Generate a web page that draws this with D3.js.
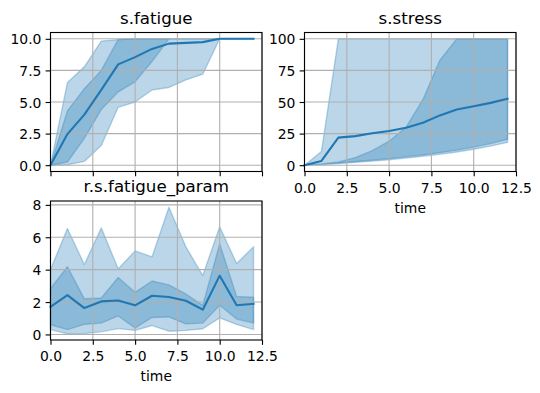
<!DOCTYPE html>
<html>
<head>
<meta charset="utf-8">
<script src="https://cdn.jsdelivr.net/npm/d3@7"></script>
<style>
  html, body { margin: 0; padding: 0; background: #fff; }
  text { font-family: "DejaVu Sans", sans-serif; fill: #000; }
</style>
</head>
<body>
<svg id="chart" width="540" height="393"></svg>
<script>
// ---------- data ----------
const time = [0, 1, 2, 3, 4, 5, 6, 7, 8, 9, 10, 11, 12];
const xTicks = [0, 2.5, 5, 7.5, 10, 12.5];

// s.fatigue
const fatigueMean  = [0, 2.46, 4.0, 5.96, 7.98, 8.55, 9.2, 9.62, 9.68, 9.74, 10, 10, 10];
const fatigueInLo  = [0, 0.25, 2.12, 4.4, 5.8, 6.6, 8.2, 10, 10, 10, 10, 10, 10];
const fatigueInHi  = [0, 4.3, 6.05, 7.5, 9.95, 10, 10, 10, 10, 10, 10, 10, 10];
const fatigueOutLo = [0, 0.03, 0.3, 1.55, 4.58, 5.0, 5.95, 6.15, 6.75, 7.2, 10, 10, 10];
const fatigueOutHi = [0, 6.55, 7.78, 9.82, 9.95, 10, 10, 10, 10, 10, 10, 10, 10];
const fatigueTicks = [0, 2.5, 5, 7.5, 10];

// s.stress
const stressMean  = [0, 3.4, 21.8, 23.0, 25.2, 27.0, 29.7, 33.6, 39.4, 44.0, 46.7, 49.3, 52.5];
const stressInLo  = [0, 0.8, 1.8, 2.9, 4.0, 5.2, 6.6, 8.1, 9.9, 11.9, 14.3, 17.1, 20.5];
const stressInHi  = [0, 1.0, 2.6, 6.0, 11.5, 19.0, 30.0, 52.0, 83.0, 100, 100, 100, 100];
const stressOutLo = [0, 0.4, 1.2, 2.2, 3.2, 4.3, 5.6, 7.0, 8.6, 10.4, 12.6, 15.1, 18.0];
const stressOutHi = [0, 10.8, 100, 100, 100, 100, 100, 100, 100, 100, 100, 100, 100];
const stressTicks = [0, 25, 50, 75, 100];

// r.s.fatigue_param
const paramMean  = [1.71, 2.43, 1.63, 2.04, 2.1, 1.8, 2.39, 2.31, 2.08, 1.53, 3.63, 1.8, 1.89];
const paramInLo  = [0.6, 0.3, 0.62, 0.7, 1.14, 0.4, 1.05, 1.08, 0.65, 0.7, 1.8, 0.95, 0.7];
const paramInHi  = [2.84, 4.18, 2.2, 2.25, 3.52, 2.6, 3.3, 3.06, 2.5, 1.8, 5.6, 2.35, 2.3];
const paramOutLo = [0.3, 0.04, 0.06, 0.16, 0.36, 0.25, 0.55, 0.2, 0.25, 0.35, 1.02, 0.62, 0.3];
const paramOutHi = [4.01, 6.54, 4.32, 6.58, 4.05, 5.16, 4.79, 7.86, 5.41, 3.64, 6.65, 4.38, 5.41];
const paramTicks = [0, 2, 4, 6, 8];

// ---------- drawing ----------
const svg = d3.select("#chart");
svg.append("rect").attr("width", 540).attr("height", 393).attr("fill", "#fff");

const C0 = "#1f77b4";
const TICK_FS = 13.9, TITLE_FS = 16.67;
const PT = 100 / 72;

function panel(cfg) {
  const {left, right, top, bottom, title, yDomain, yTicks, yFmt, mean, inLo, inHi, outLo, outHi, showXLabels} = cfg;
  const x = d3.scaleLinear().domain([0, 12.5]).range([left, right]);
  const y = d3.scaleLinear().domain(yDomain).range([bottom, top]);
  const g = svg.append("g");

  const pts = time.map((t, i) => i);
  const area = (lo, hi) => d3.area()
    .x(i => x(time[i])).y0(i => y(lo[i])).y1(i => y(hi[i]))(pts);

  // bands
  [[outLo, outHi], [inLo, inHi]].forEach(([lo, hi]) => {
    g.append("path").attr("d", area(lo, hi))
      .attr("fill", C0).attr("fill-opacity", 0.3)
      .attr("stroke", C0).attr("stroke-opacity", 0.3).attr("stroke-width", 1 * PT)
      .attr("stroke-linejoin", "round");
  });

  // grid
  xTicks.forEach(t => g.append("line")
    .attr("x1", x(t)).attr("x2", x(t)).attr("y1", top).attr("y2", bottom)
    .attr("stroke", "#b0b0b0").attr("stroke-width", 0.8 * PT));
  yTicks.forEach(t => g.append("line")
    .attr("x1", left).attr("x2", right).attr("y1", y(t)).attr("y2", y(t))
    .attr("stroke", "#b0b0b0").attr("stroke-width", 0.8 * PT));

  // mean line
  g.append("path")
    .attr("d", d3.line().x(i => x(time[i])).y(i => y(mean[i]))(pts))
    .attr("fill", "none").attr("stroke", C0).attr("stroke-width", 1.5 * PT)
    .attr("stroke-linejoin", "round").attr("stroke-linecap", "square");

  // spines
  g.append("rect").attr("x", left).attr("y", top)
    .attr("width", right - left).attr("height", bottom - top)
    .attr("fill", "none").attr("stroke", "#000").attr("stroke-width", 0.8 * PT);

  // x axis
  const xAxis = d3.axisBottom(x).tickValues(xTicks).tickSize(4.86).tickPadding(3)
    .tickFormat(showXLabels ? d3.format(".1f") : () => "");
  const xa = g.append("g").attr("transform", `translate(0,${bottom})`).call(xAxis);
  // y axis
  const yAxis = d3.axisLeft(y).tickValues(yTicks).tickSize(4.86).tickPadding(4.2)
    .tickFormat(yFmt);
  const ya = g.append("g").attr("transform", `translate(${left},0)`).call(yAxis);

  [xa, ya].forEach(a => {
    a.select(".domain").remove();
    a.selectAll(".tick line").attr("stroke", "#000").attr("stroke-width", 0.8 * PT);
    a.selectAll(".tick text").attr("font-size", TICK_FS)
      .attr("font-family", "DejaVu Sans, sans-serif").attr("fill", "#000");
  });
  xa.selectAll(".tick text").attr("dy", null).attr("y", 21).attr("dominant-baseline", "auto");
  ya.selectAll(".tick text").attr("dy", "0.36em");

  // title
  g.append("text").attr("x", (left + right) / 2).attr("y", top - 8.6)
    .attr("text-anchor", "middle").attr("font-size", TITLE_FS).text(title);

  if (showXLabels) {
    g.append("text").attr("x", (left + right) / 2).attr("y", bottom + 41)
      .attr("text-anchor", "middle").attr("font-size", TICK_FS).text("time");
  }
}

panel({left: 50.5, right: 262, top: 32.5, bottom: 171.5, title: "s.fatigue",
  yDomain: [-0.5, 10.5], yTicks: fatigueTicks, yFmt: d3.format(".1f"),
  mean: fatigueMean, inLo: fatigueInLo, inHi: fatigueInHi, outLo: fatigueOutLo, outHi: fatigueOutHi,
  showXLabels: false});

panel({left: 304.5, right: 516, top: 32.5, bottom: 171.5, title: "s.stress",
  yDomain: [-5, 105], yTicks: stressTicks, yFmt: d3.format("d"),
  mean: stressMean, inLo: stressInLo, inHi: stressInHi, outLo: stressOutLo, outHi: stressOutHi,
  showXLabels: true});

panel({left: 50.5, right: 262, top: 201, bottom: 340, title: "r.s.fatigue_param",
  yDomain: [-0.343, 8.24], yTicks: paramTicks, yFmt: d3.format("d"),
  mean: paramMean, inLo: paramInLo, inHi: paramInHi, outLo: paramOutLo, outHi: paramOutHi,
  showXLabels: true});
</script>
</body>
</html>
